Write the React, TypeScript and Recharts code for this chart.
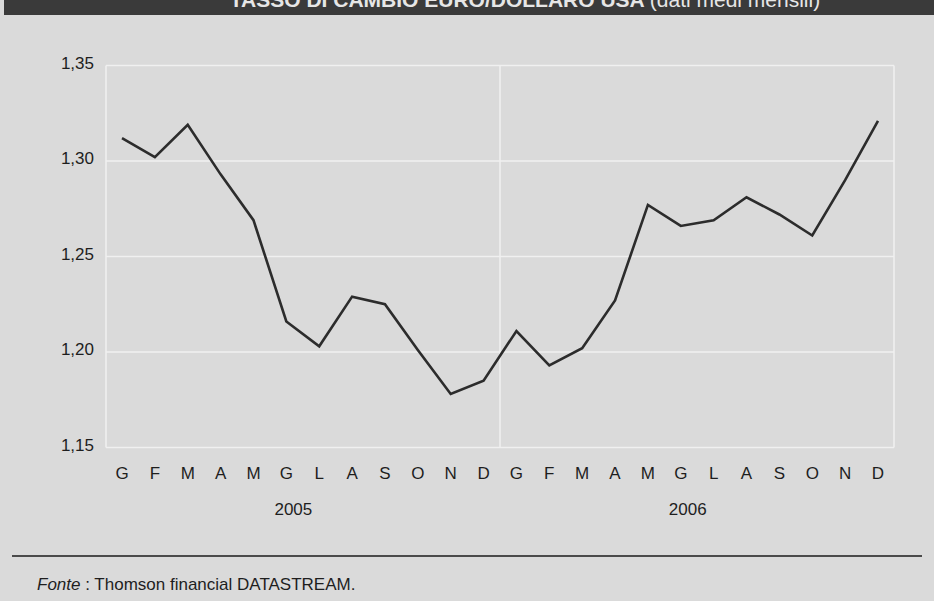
import { LineChart, Line, XAxis, YAxis, CartesianGrid } from 'recharts';

const months = ['G', 'F', 'M', 'A', 'M', 'G', 'L', 'A', 'S', 'O', 'N', 'D', 'G', 'F', 'M', 'A', 'M', 'G', 'L', 'A', 'S', 'O', 'N', 'D'];
const years = ['2005', '2006'];
const rate = [
  1.312, 1.302, 1.319, 1.293, 1.269, 1.216, 1.203, 1.229, 1.225, 1.201, 1.178, 1.185,
  1.211, 1.193, 1.202, 1.227, 1.277, 1.266, 1.269, 1.281, 1.272, 1.261, 1.290, 1.321,
];
const yTicks = [1.15, 1.2, 1.25, 1.3, 1.35];

const data = months.map((m, i) => ({ month: m, idx: i, rate: rate[i] }));

const font = '"Liberation Sans", Arial, Helvetica, sans-serif';

const MonthTick = (props: any) => {
  const { x, y, payload, index } = props;
  const showYear = index % 12 === 5;
  return (
    <g>
      <text x={x} y={y + 31} textAnchor="middle" fontSize={17} fill="#1e1e1e" fontFamily={font}>
        {payload.value}
      </text>
      {showYear && (
        <text x={x + 7} y={y + 67} textAnchor="middle" fontSize={17} fill="#1e1e1e" fontFamily={font}>
          {years[Math.floor(index / 12)]}
        </text>
      )}
    </g>
  );
};

const RateTick = (props: any) => {
  const { x, y, payload } = props;
  return (
    <text x={x} y={y + 3} textAnchor="end" fontSize={17} fill="#1e1e1e" fontFamily={font}>
      {payload.value.toFixed(2).replace('.', ',')}
    </text>
  );
};

const App = () => {
  return (
    <div
      style={{
        position: 'absolute',
        left: 0,
        top: 0,
        width: 934,
        height: 601,
        background: '#dadada',
        overflow: 'hidden',
        fontFamily: font,
      }}
    >
      <div
        style={{
          position: 'absolute',
          left: 4,
          top: 0,
          width: 930,
          height: 15,
          background: '#3a3a3a',
          overflow: 'hidden',
        }}
      >
        <div
          style={{
            position: 'absolute',
            left: -4,
            width: 1050,
            top: -12,
            textAlign: 'center',
            color: '#e6e6e6',
            fontSize: 21,
            fontWeight: 'bold',
            whiteSpace: 'nowrap',
          }}
        >
          TASSO DI CAMBIO EURO/DOLLARO USA <span style={{ fontWeight: 'normal' }}>(dati medi mensili)</span>
        </div>
      </div>

      <LineChart width={934} height={601} data={data} margin={{ top: 65.5, right: 40, left: 0, bottom: 123.5 }}>
        <CartesianGrid
          stroke="#f0f0f0"
          strokeWidth={1.5}
          verticalCoordinatesGenerator={({ offset }: any) => [
            offset.left,
            offset.left + offset.width / 2,
            offset.left + offset.width,
          ]}
        />
        <XAxis
          dataKey="month"
          axisLine={false}
          tickLine={false}
          tickSize={0}
          tickMargin={0}
          interval={0}
          height={30}
          padding={{ left: 16, right: 16 }}
          tick={<MonthTick />}
        />
        <YAxis
          domain={[1.15, 1.35]}
          ticks={yTicks}
          width={106}
          axisLine={false}
          tickLine={false}
          tickSize={0}
          tickMargin={12}
          tick={<RateTick />}
        />
        <Line
          type="linear"
          dataKey="rate"
          stroke="#2c2c2c"
          strokeWidth={2.6}
          dot={false}
          isAnimationActive={false}
        />
      </LineChart>

      <div
        style={{
          position: 'absolute',
          left: 12,
          top: 555,
          width: 910,
          height: 2,
          background: '#4a4a4a',
        }}
      />
      <div
        style={{
          position: 'absolute',
          left: 37,
          top: 575,
          fontSize: 17,
          color: '#1e1e1e',
          whiteSpace: 'nowrap',
        }}
      >
        <i>Fonte</i> : Thomson financial DATASTREAM.
      </div>
    </div>
  );
};

export default App;
